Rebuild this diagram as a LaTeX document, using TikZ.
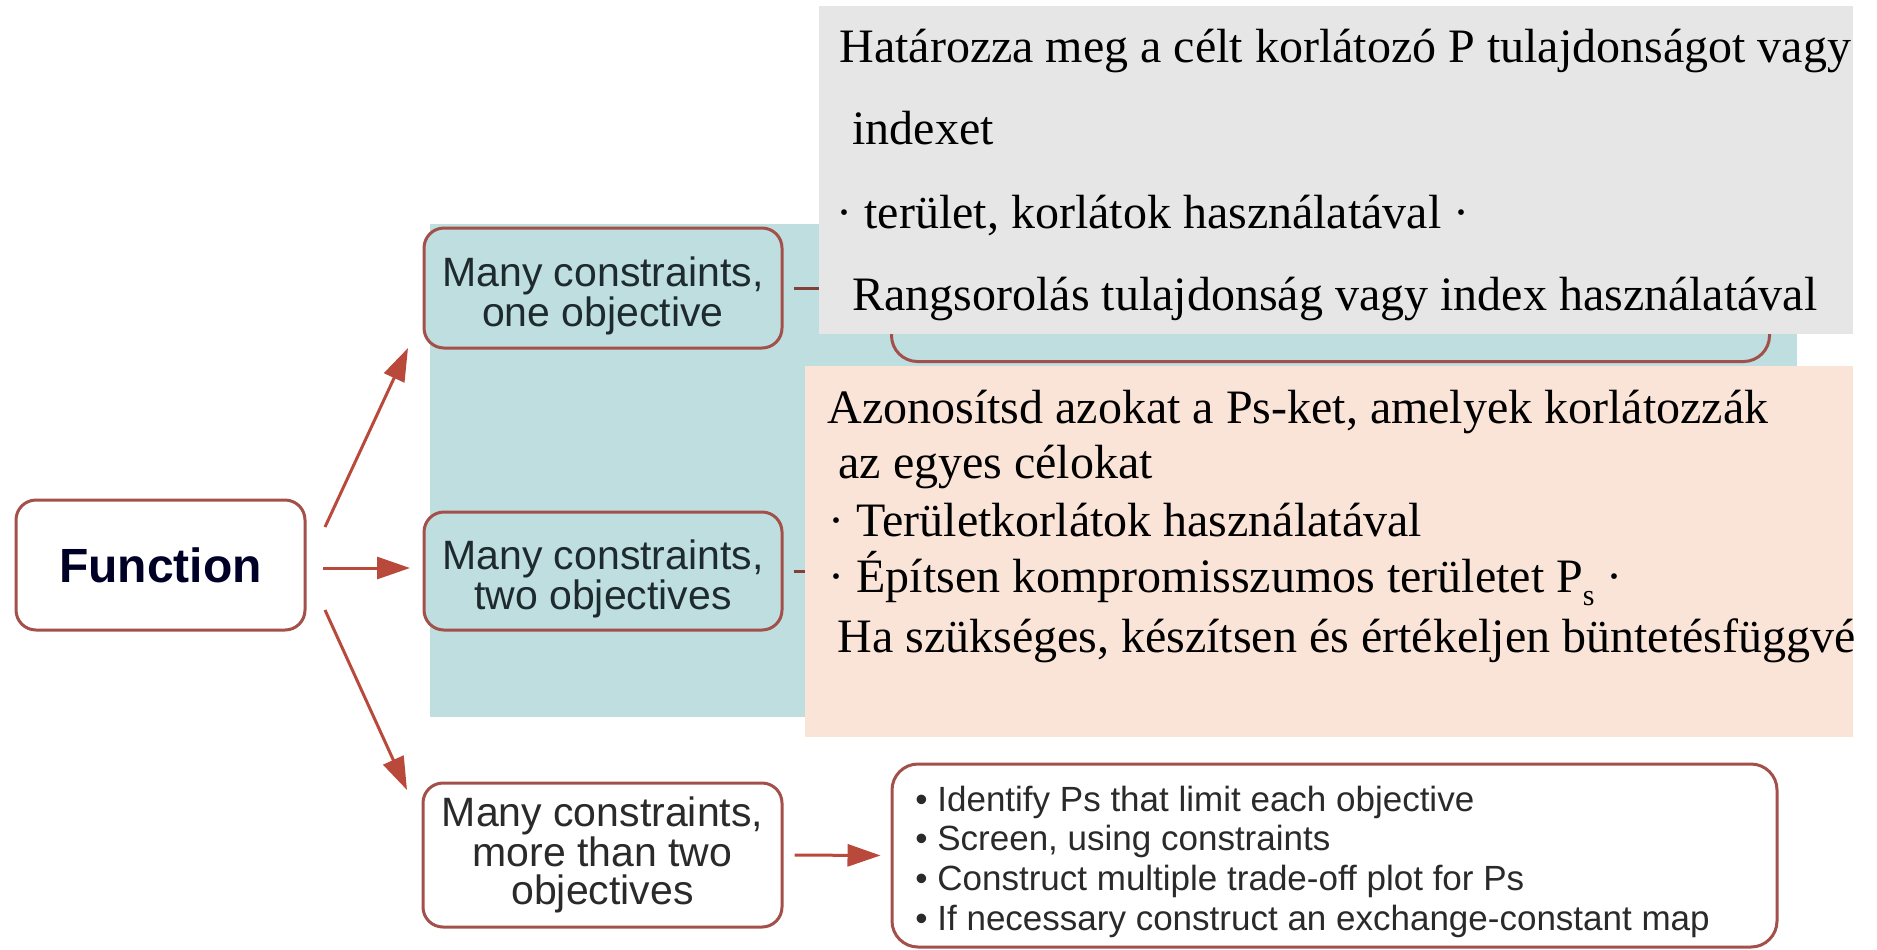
\documentclass[tikz,border=0pt]{standalone}
\usepackage{fontspec}
\setmainfont{Liberation Serif}
\newfontfamily\sansf{Liberation Sans}
\usetikzlibrary{arrows.meta}
\definecolor{tealc}{HTML}{BFDEE0}
\definecolor{greyc}{HTML}{E6E6E6}
\definecolor{pinkc}{HTML}{FAE4D8}
\definecolor{bordc}{HTML}{A4504A}
\definecolor{arrc}{HTML}{B8493B}
\definecolor{txtc}{HTML}{1E2B2E}
\definecolor{bultxt}{HTML}{2A2A2A}
\tikzset{
  box/.style={draw=bordc, line width=1.5pt, rounded corners=10pt, align=center,
    font=\sansf\fontsize{20.5}{20}\selectfont, text=txtc, inner sep=0pt},
  boxtext/.style={align=center, inner sep=0pt, font=\sansf\fontsize{20.5}{20}\selectfont, text=txtc},
  arr/.style={draw=arrc, line width=1.5pt, -{Triangle[length=16.5pt,width=11pt]}},
  conn/.style={draw=bordc!80!black, line width=1.5pt},
  serifline/.style={anchor=base west, inner sep=0pt, font=\fontsize{24}{28}\selectfont, text=black},
  bul/.style={anchor=base west, inner sep=0pt, font=\sansf\fontsize{17.5}{20}\selectfont, text=bultxt}
}
\begin{document}
\begin{tikzpicture}[x=0.5pt,y=-0.5pt]
\useasboundingbox (0,0) rectangle (1877,949);
% teal background
\fill[tealc] (430,224) rectangle (1797,717);
% hidden box behind grey
\node[draw=bordc, line width=1.5pt, rounded corners=13pt, fill=tealc, minimum width=439pt,
      minimum height=60pt, anchor=south west, inner sep=0pt] (hid) at (890,363) {};
% left nodes
\node[box, fill=white, minimum width=144.5pt, minimum height=65pt,
      font=\sansf\bfseries\fontsize{24}{28}\selectfont, text=black!85!blue] (fn) at (160.5,565) {Function};
\node[box, fill=tealc, minimum width=179pt, minimum height=60pt] (b1) at (603,288) {};
\node[boxtext] (b1t) at (603,296) {Many constraints,\\ one objective};
\node[box, fill=tealc, minimum width=179pt, minimum height=59pt] (b2) at (603,571) {};
\node[boxtext] (b2t) at (603,579) {Many constraints,\\ two objectives};
\node[box, fill=white, minimum width=179.5pt, minimum height=72pt,
      font=\sansf\fontsize{20.5}{19}\selectfont, text=bultxt] (b3) at (602.5,855) {Many constraints,\\ more than two\\ objectives};
\node[box, fill=white, rounded corners=13pt, minimum width=442.5pt, minimum height=91.5pt] (b4) at (1334.5,855.5) {};
% bottom-right texts
\node[bul] (l1) at (915,811) {• Identify Ps that limit each objective};
\node[bul] (l2) at (915,850) {• Screen, using constraints};
\node[bul] (l3) at (915,890) {• Construct multiple trade-off plot for Ps};
\node[bul] (l4) at (915,930) {• If necessary construct an exchange-constant map};
% arrows from Function
\coordinate (f1) at (325,527);
\coordinate (f2) at (323,568);
\coordinate (f3) at (325,610);
\coordinate (t1) at (408,348);
\coordinate (t2) at (410,568);
\coordinate (t3) at (407,790);
\draw[arr] (f1) -- (t1);
\draw[arr] (f2) -- (t2);
\draw[arr] (f3) -- (t3);
\draw[arr, shorten <=5.5pt, shorten >=5pt] (b3.east) -- (b4.west);
% grey box
\node[fill=greyc, minimum width=517pt, minimum height=164pt, inner sep=0pt, anchor=north west] (grey) at (819,6) {};
\draw[conn, shorten <=5pt] (b1.east) -- (b1.east -| grey.west);
% pink box
\node[fill=pinkc, minimum width=524pt, minimum height=185.5pt, inner sep=0pt, anchor=north west] (pink) at (805,366) {};
\draw[conn, shorten <=5pt] (b2.east) -- (b2.east -| pink.west);
% grey texts
\node[serifline] (g1) at (839,62) {Határozza meg a célt korlátozó P tulajdonságot vagy};
\node[serifline] (g2) at (852,144) {indexet};
\node[serifline] (g3) at (836,228) {· terület, korlátok használatával ·};
\node[serifline] (g4) at (852,310) {Rangsorolás tulajdonság vagy index használatával};
% pink texts
\begin{scope}
\clip (pink.north west) rectangle (pink.south east);
\node[serifline] (p1) at (827,423) {Azonosítsd azokat a Ps-ket, amelyek korlátozzák};
\node[serifline] (p2) at (838,478) {az egyes célokat};
\node[serifline] (p3) at (828,536) {· Területkorlátok használatával};
\node[serifline] (p4) at (828,592) {· Építsen kompromisszumos területet P\raisebox{-6.5pt}{\fontsize{15}{15}\selectfont s} ·};
\node[serifline] (p5) at (837,652) {Ha szükséges, készítsen és értékeljen büntetésfüggvé};
\end{scope}
\end{tikzpicture}
\end{document}
